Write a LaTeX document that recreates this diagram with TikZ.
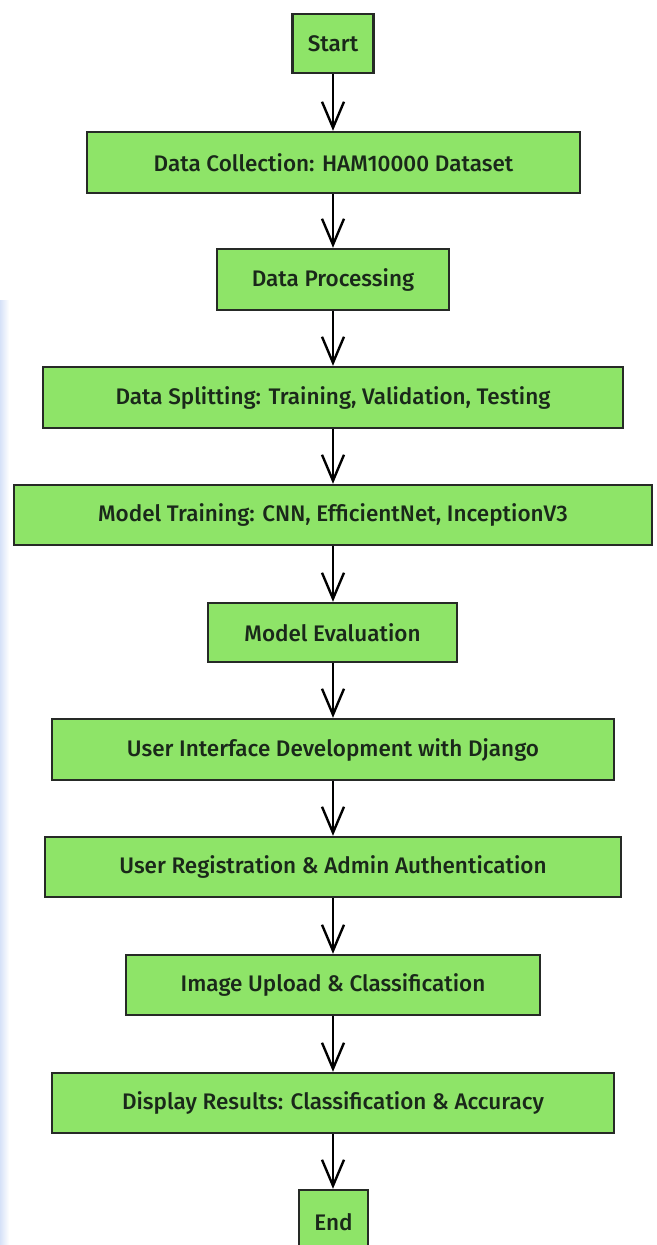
\documentclass[tikz,border=0pt]{standalone}
\usepackage{fontspec}
\setmainfont{Fira Sans}
\newfontfamily\lblfont{Fira Sans Medium}
\usetikzlibrary{arrows.meta}
\definecolor{boxfill}{RGB}{142,228,104}
\definecolor{boxline}{RGB}{38,42,38}
\definecolor{txt}{RGB}{26,40,26}
\definecolor{haze}{RGB}{214,226,248}
\tikzset{
  stepbox/.style={draw=boxline, line width=2.4pt, fill=boxfill, inner sep=0pt,
    anchor=center, text=txt, font=\lblfont\fontsize{22.5}{26}\selectfont},
  flow/.style={draw=black, line width=2.8pt,
    -{Straight Barb[length=26pt,width=22pt,line width=2.4pt]}}
}
\begin{document}
\begin{tikzpicture}[x=1pt,y=-1pt]
\useasboundingbox (0,0) rectangle (656,1245);
\clip (0,0) rectangle (656,1245);
\fill[white] (0,0) rectangle (656,1245);
% faint tint along the left margin
\shade[left color=haze, right color=white] (0,300) rectangle (9,1245);

\node[stepbox, minimum width=81, minimum height=59] (start) at (333,43.5) {Start};
\node[stepbox, minimum width=493, minimum height=61] (dc) at (333.5,162.5) {Data Collection: HAM10000 Dataset};
\node[stepbox, minimum width=232, minimum height=61] (dp) at (333,279.5) {Data Processing};
\node[stepbox, minimum width=580, minimum height=61] (ds) at (333,397.5) {Data Splitting: Training, Validation, Testing};
\node[stepbox, minimum width=638, minimum height=60] (mt) at (333,515) {Model Training: CNN, EfficientNet, InceptionV3};
\node[stepbox, minimum width=249, minimum height=59] (me) at (332.5,632.5) {Model Evaluation};
\node[stepbox, minimum width=562, minimum height=61] (ui) at (333,749.5) {User Interface Development with Django};
\node[stepbox, minimum width=576, minimum height=60] (ur) at (333,867) {User Registration \& Admin Authentication};
\node[stepbox, minimum width=414, minimum height=60] (iu) at (333,985) {Image Upload \& Classification};
\node[stepbox, minimum width=562, minimum height=60] (dr) at (333,1103) {Display Results: Classification \& Accuracy};
\node[stepbox, minimum width=69, minimum height=64, text depth=0pt] (end) at (333.5,1222) {End};

\foreach \a/\b in {start/dc, dc/dp, dp/ds, ds/mt, mt/me, me/ui, ui/ur, ur/iu, iu/dr, dr/end}
  \draw[flow] (\a.south -| start.center) -- (\b.north -| start.center);
\end{tikzpicture}
\end{document}
